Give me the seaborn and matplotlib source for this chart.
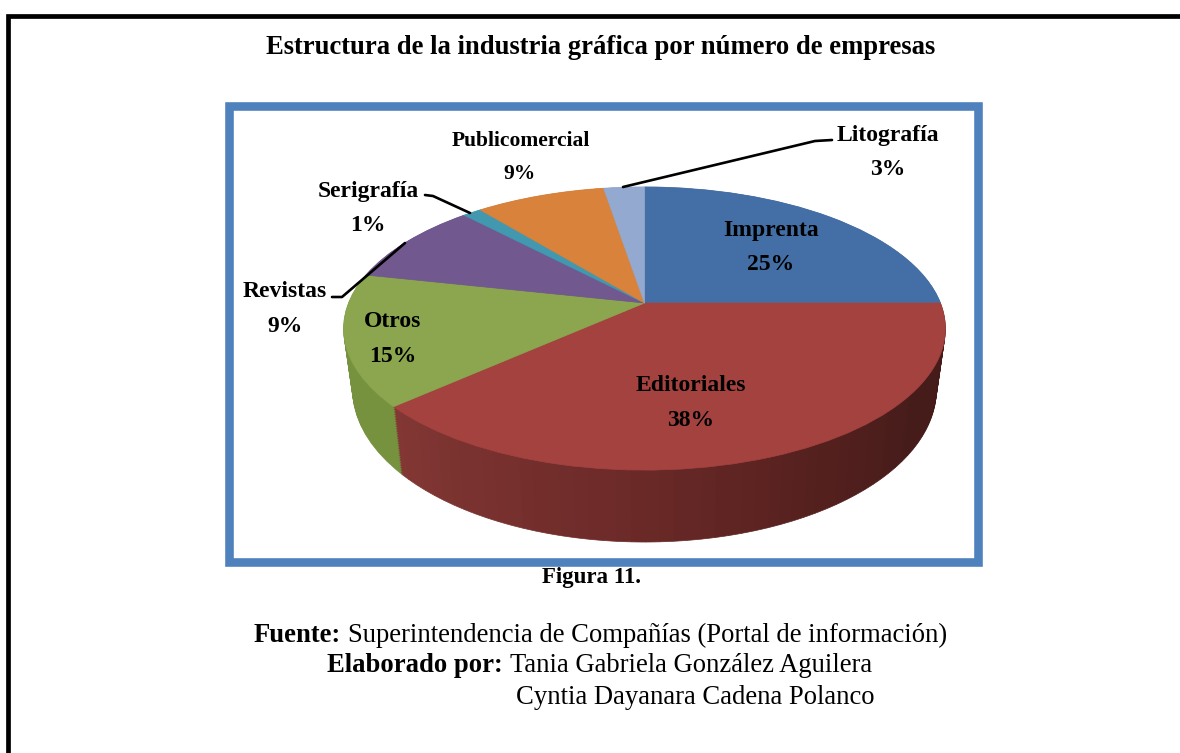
import numpy as np
import seaborn as sns
import matplotlib.pyplot as plt
from matplotlib.patches import Rectangle
from matplotlib.transforms import Transform

# Shares (slices run clockwise from 12 o'clock)
categories = ["Imprenta", "Editoriales", "Otros", "Revistas", "Serigrafía", "Publicomercial", "Litografía"]
shares = [25.0, 38.4, 15.0, 9.5, 1.2, 8.3, 2.6]
percent_labels = ["25%", "38%", "15%", "9%", "1%", "9%", "3%"]
top_colors = ["#446fa6", "#a44240", "#8ba64e", "#71588f", "#4198af", "#d8823b", "#93a9cf"]
side_colors = ["#33527a", "#7f3634", "#76923f", "#54426b", "#307283", "#a1612c", "#6e7f9b"]

# Text placement, in pixels of the 1180x753 page
label_xy = [(771, 230), (691, 385), (393, 321), (285, 291), (368, 191), (521, 141), (888, 135)]
percent_xy = [(771, 264), (691, 420), (393, 356), (285, 326), (368, 225), (520, 174), (888, 169)]
label_sizes = [17, 17, 17, 17, 17, 15.5, 17]
leaders = {
    "Revistas": ([332, 342, 405], [297, 297, 243]),
    "Serigrafía": ([425, 433, 470], [195, 196, 213]),
    "Litografía": ([623, 815, 832], [187, 141, 140]),
}

# Shading of the red rim, from its right end to its left end
red_rim_x = [0.0, 0.25, 0.45, 0.7, 1.0]
red_rim_rgb = np.array([[68, 27, 24], [70, 28, 26], [86, 33, 31], [110, 43, 41], [130, 55, 52]]) / 255


class PiePerspective(Transform):
    # tilts the unit pie circle into page pixels, the far side gets smaller
    input_dims = 2
    output_dims = 2
    is_separable = False
    has_inverse = False

    def __init__(self, drop=0.0):
        super().__init__()
        self.drop = drop

    def transform_non_affine(self, values):
        values = np.asarray(values, dtype=float)
        w = 1 + 0.18 * values[:, 1]
        x = 644.5 + 296 * (1 - 0.03 * self.drop / 59) * values[:, 0] / w
        y = 303 - 137 * values[:, 1] / w + self.drop / w
        return np.column_stack([x, y])


sns.set_theme(style="white")
plt.rcParams["font.family"] = ["Liberation Serif", "DejaVu Serif"]

fig = plt.figure(figsize=(11.8, 7.53), dpi=100, facecolor="white")
ax = fig.add_axes([0, 0, 1, 1])


def draw_pie(values, colors, drop):
    wedges, _ = ax.pie(values, colors=colors, startangle=90, counterclock=False,
                       wedgeprops={"linewidth": 0.5})
    for wedge, color in zip(wedges, colors):
        wedge.set_edgecolor(color)
        wedge.set_transform(PiePerspective(drop) + ax.transData)


# Rim of the pie: same shares cut in thin strips so the red one can be shaded
rim_values = []
rim_colors = []
for i, share in enumerate(shares):
    n = 60 if i == 1 else 1
    rim_values += [share / n] * n
    if i == 1:
        pos = np.linspace(0, 1, n)
        rim_colors += [tuple(np.interp(p, red_rim_x, red_rim_rgb[:, c]) for c in range(3)) for p in pos]
    else:
        rim_colors.append(side_colors[i])

for drop in np.arange(59, 0, -1.5):
    draw_pie(rim_values, rim_colors, drop)
draw_pie(shares, top_colors, 0)

ax.set_aspect("auto")
ax.set_xlim(0, 1180)
ax.set_ylim(753, 0)
ax.axis("off")

# Page frame and chart frame
ax.plot([8.3, 8.3, 1180], [753, 16.2, 16.2], color="black", lw=3.4, solid_joinstyle="miter")
ax.add_patch(Rectangle((229, 105.5), 749, 456, fill=False, edgecolor="#4f81bd", lw=6.2, joinstyle="miter"))

# Leader lines
for name, (xs, ys) in leaders.items():
    ax.plot(xs, ys, color="black", lw=1.9)

# Slice labels
for name, pct, (lx, ly), (px, py), size in zip(categories, percent_labels, label_xy, percent_xy, label_sizes):
    ax.text(lx, ly, name, ha="center", va="center", fontsize=size, fontweight="bold", color="black")
    ax.text(px, py, pct, ha="center", va="center", fontsize=size, fontweight="bold", color="black")

# Page text
ax.text(600.5, 47, "Estructura de la industria gráfica por número de empresas", ha="center", va="center",
        fontsize=19.2, fontweight="bold", color="black")
ax.text(591, 578, "Figura 11.", ha="center", va="center", fontsize=16.5, fontweight="bold", color="black")
ax.text(254, 635, "Fuente:", ha="left", va="center", fontsize=19.2, fontweight="bold", color="black")
ax.text(348, 635, "Superintendencia de Compañías (Portal de información)", ha="left", va="center",
        fontsize=19.2, color="black")
ax.text(327, 665, "Elaborado por:", ha="left", va="center", fontsize=19.2, fontweight="bold", color="black")
ax.text(510, 665, "Tania Gabriela González Aguilera", ha="left", va="center", fontsize=19.2, color="black")
ax.text(516, 697, "Cyntia Dayanara Cadena Polanco", ha="left", va="center", fontsize=19.2, color="black")

fig.savefig("out.png", dpi=100, facecolor="white")
